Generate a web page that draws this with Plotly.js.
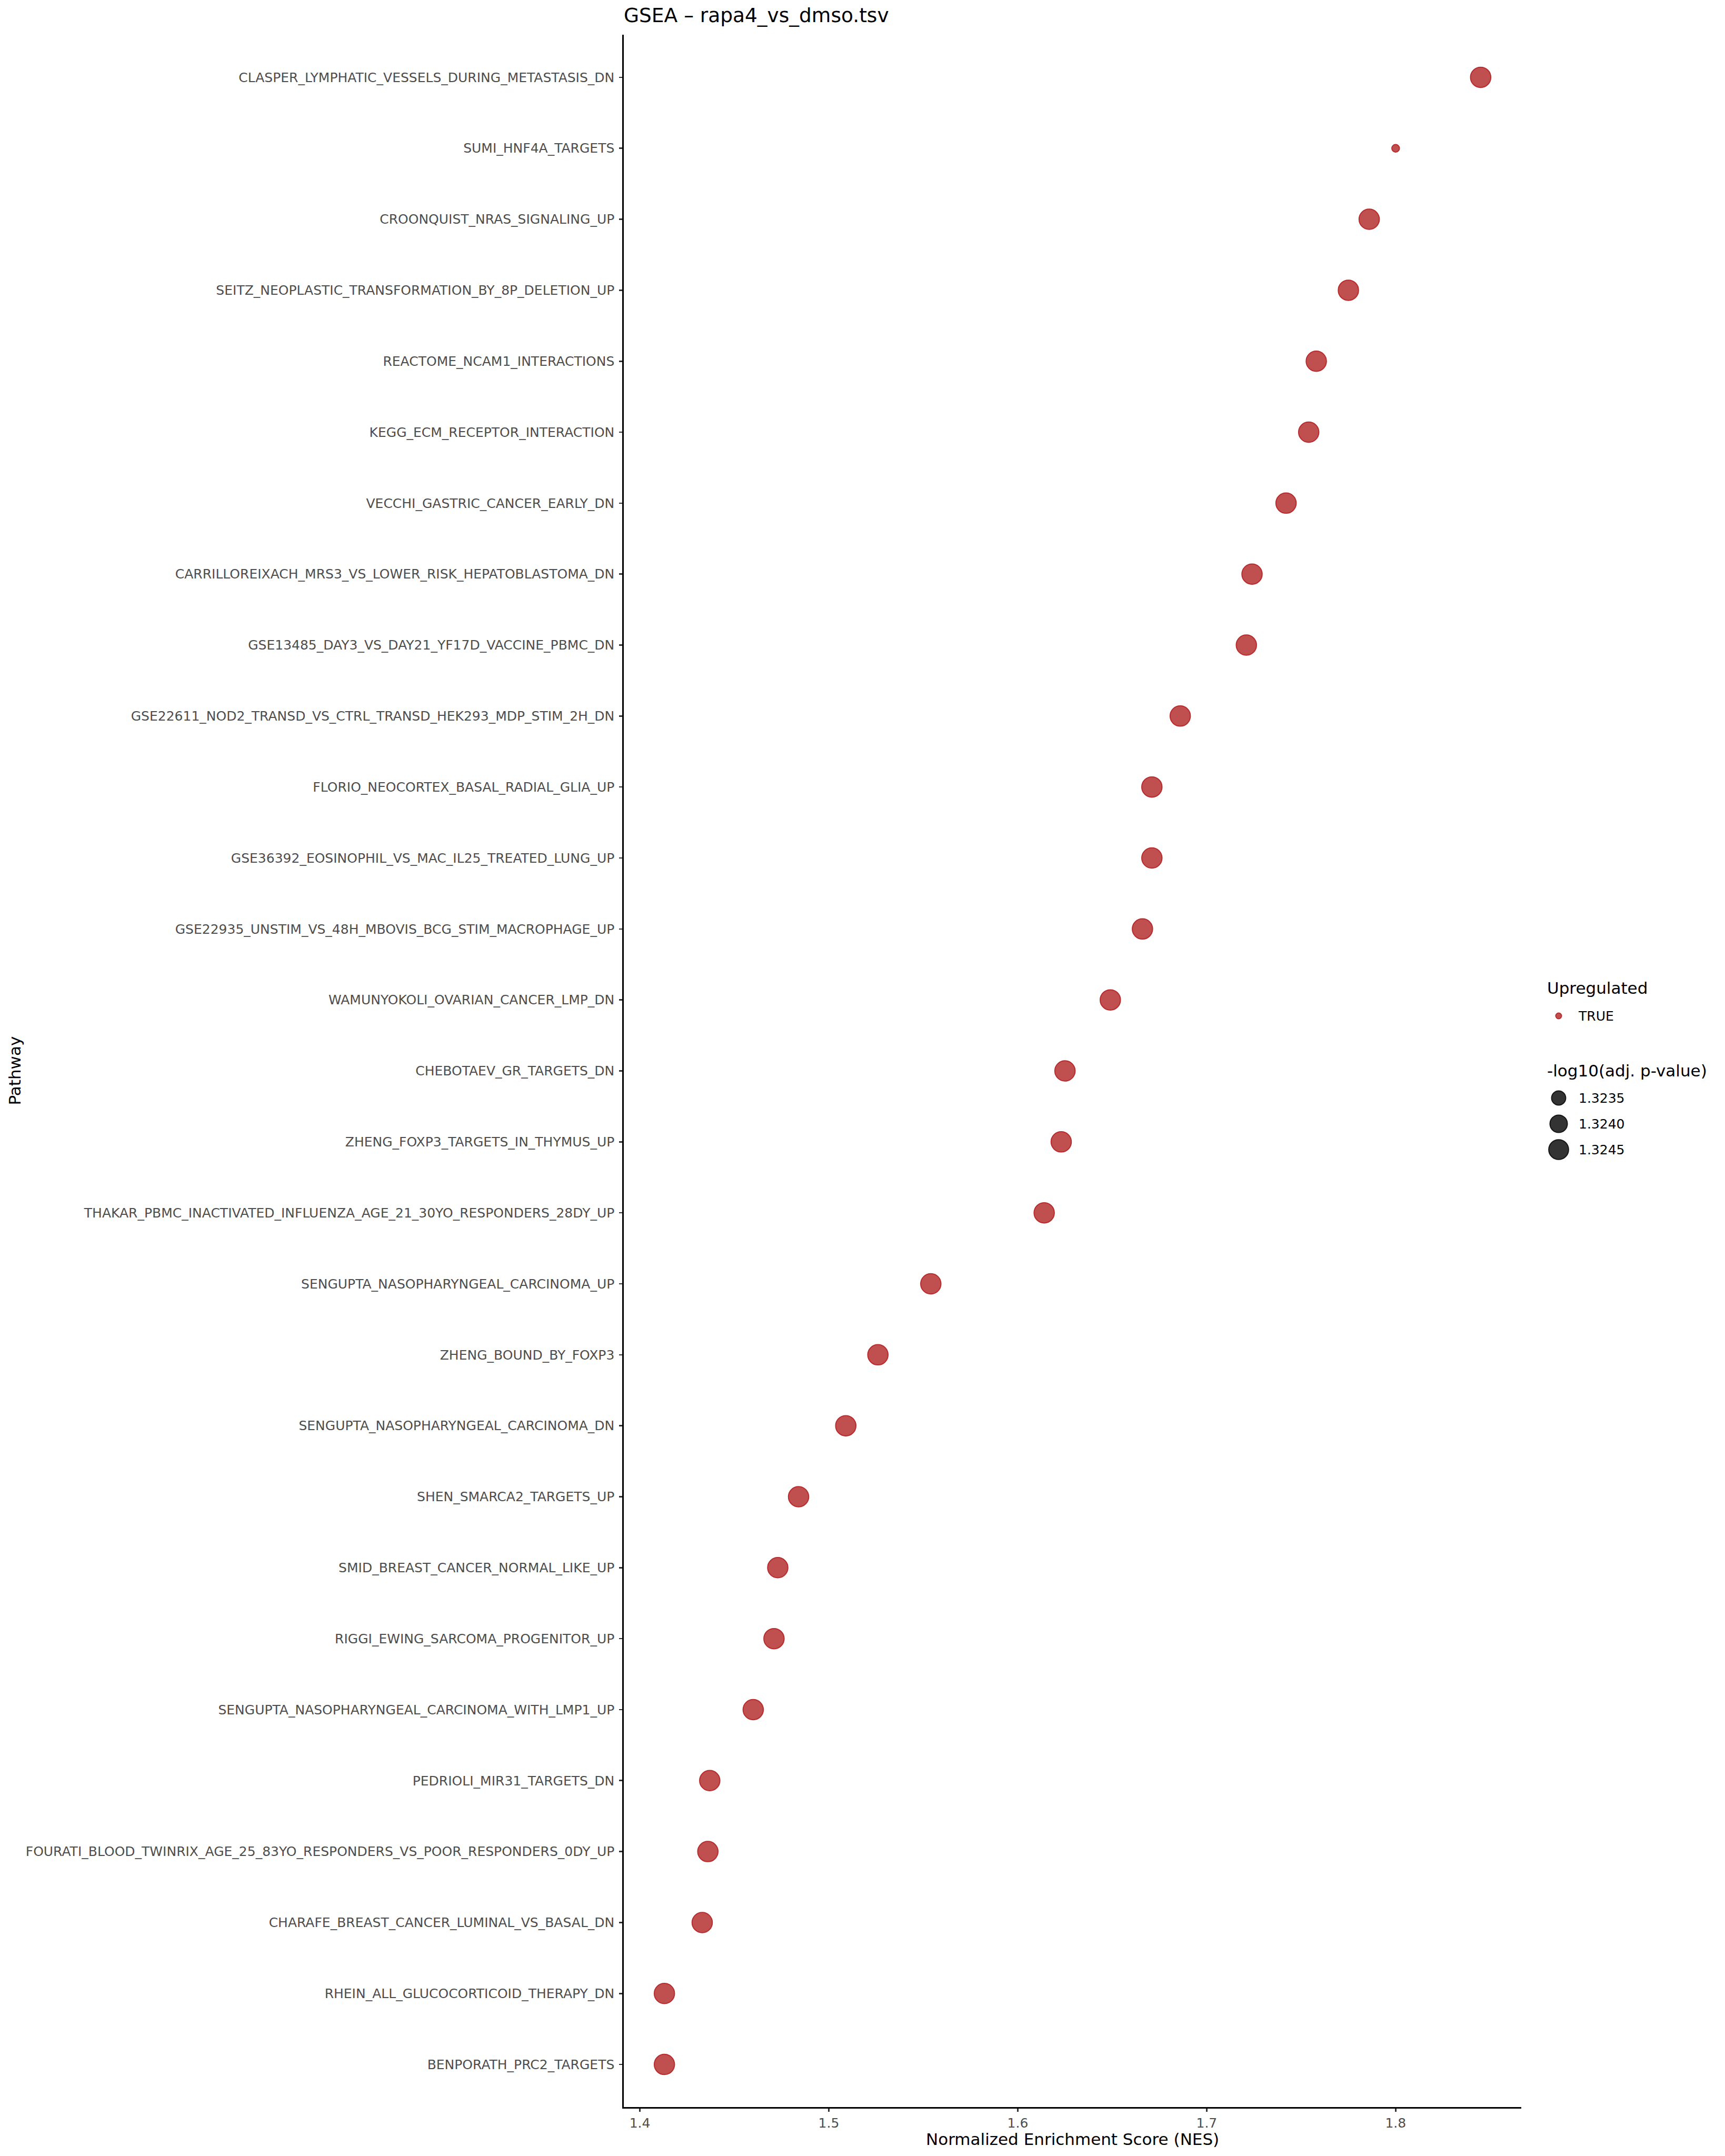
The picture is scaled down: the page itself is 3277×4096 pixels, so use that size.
<!DOCTYPE html>
<html>
<head>
<meta charset="utf-8">
<script src="https://cdn.plot.ly/plotly-3.0.1.min.js"></script>
<style>html,body{margin:0;padding:0;background:#fff;}#chart{width:3277px;height:4096px;}</style>
</head>
<body>
<div id="chart"></div>
<script>
// ---- data (top to bottom as displayed) ----
const pathways = [
  "CLASPER_LYMPHATIC_VESSELS_DURING_METASTASIS_DN",
  "SUMI_HNF4A_TARGETS",
  "CROONQUIST_NRAS_SIGNALING_UP",
  "SEITZ_NEOPLASTIC_TRANSFORMATION_BY_8P_DELETION_UP",
  "REACTOME_NCAM1_INTERACTIONS",
  "KEGG_ECM_RECEPTOR_INTERACTION",
  "VECCHI_GASTRIC_CANCER_EARLY_DN",
  "CARRILLOREIXACH_MRS3_VS_LOWER_RISK_HEPATOBLASTOMA_DN",
  "GSE13485_DAY3_VS_DAY21_YF17D_VACCINE_PBMC_DN",
  "GSE22611_NOD2_TRANSD_VS_CTRL_TRANSD_HEK293_MDP_STIM_2H_DN",
  "FLORIO_NEOCORTEX_BASAL_RADIAL_GLIA_UP",
  "GSE36392_EOSINOPHIL_VS_MAC_IL25_TREATED_LUNG_UP",
  "GSE22935_UNSTIM_VS_48H_MBOVIS_BCG_STIM_MACROPHAGE_UP",
  "WAMUNYOKOLI_OVARIAN_CANCER_LMP_DN",
  "CHEBOTAEV_GR_TARGETS_DN",
  "ZHENG_FOXP3_TARGETS_IN_THYMUS_UP",
  "THAKAR_PBMC_INACTIVATED_INFLUENZA_AGE_21_30YO_RESPONDERS_28DY_UP",
  "SENGUPTA_NASOPHARYNGEAL_CARCINOMA_UP",
  "ZHENG_BOUND_BY_FOXP3",
  "SENGUPTA_NASOPHARYNGEAL_CARCINOMA_DN",
  "SHEN_SMARCA2_TARGETS_UP",
  "SMID_BREAST_CANCER_NORMAL_LIKE_UP",
  "RIGGI_EWING_SARCOMA_PROGENITOR_UP",
  "SENGUPTA_NASOPHARYNGEAL_CARCINOMA_WITH_LMP1_UP",
  "PEDRIOLI_MIR31_TARGETS_DN",
  "FOURATI_BLOOD_TWINRIX_AGE_25_83YO_RESPONDERS_VS_POOR_RESPONDERS_0DY_UP",
  "CHARAFE_BREAST_CANCER_LUMINAL_VS_BASAL_DN",
  "RHEIN_ALL_GLUCOCORTICOID_THERAPY_DN",
  "BENPORATH_PRC2_TARGETS"
];
const nes = [
  1.845, 1.800, 1.786, 1.775, 1.758, 1.754, 1.742, 1.724, 1.721, 1.686,
  1.671, 1.671, 1.666, 1.649, 1.625, 1.623, 1.614, 1.554, 1.526, 1.509,
  1.484, 1.473, 1.471, 1.460, 1.437, 1.436, 1.433, 1.413, 1.413
];
const negLog10Padj = [
  1.3246, 1.3231, 1.3246, 1.3246, 1.3246, 1.3246, 1.3246, 1.3246, 1.3246, 1.3246,
  1.3246, 1.3246, 1.3246, 1.3246, 1.3246, 1.3246, 1.3246, 1.3246, 1.3246, 1.3246,
  1.3246, 1.3246, 1.3246, 1.3246, 1.3246, 1.3246, 1.3246, 1.3246, 1.3246
];
const upregulated = ["TRUE"];
const sizeLegendValues = [1.3235, 1.3240, 1.3245];
const sizeLegendLabels = ["1.3235", "1.3240", "1.3245"];
const xTickVals = [1.4, 1.5, 1.6, 1.7, 1.8];
const xTickText = ["1.4", "1.5", "1.6", "1.7", "1.8"];

// ---- size scale (area-like, as in ggplot scale_size) ----
const vMin = Math.min(...negLog10Padj), vMax = Math.max(...negLog10Padj);
const LINE_W = 2;
function sizeOf(v) {
  let t = (v - vMin) / (vMax - vMin);
  t = Math.max(0, Math.min(1, t));
  return 16.4 + 24.1 * Math.sqrt(t) - LINE_W;
}

const FONT = "DejaVu Sans";
const W = 3277, H = 4096;
const L = 1185, R = 20, T = 66, B = 93;
const PW = W - L - R;
const PH = H - T - B;
const px2x = p => (p - L) / PW;
const py2y = p => (H - B - p) / PH;

const redFill = "rgb(192,80,80)", redLine = "rgb(184,44,46)";
const blkFill = "rgb(51,51,51)", blkLine = "rgb(22,22,22)";

const traces = [
  {
    type: "scatter", mode: "markers",
    x: nes, y: pathways, xaxis: "x", yaxis: "y",
    marker: { size: negLog10Padj.map(sizeOf), color: redFill, opacity: 1, line: { color: redLine, width: LINE_W } },
    showlegend: false, hoverinfo: "x+y"
  },
  {
    type: "scatter", mode: "markers",
    x: upregulated.map(() => 0.5), y: upregulated, xaxis: "x3", yaxis: "y3",
    marker: { size: 11, color: redFill, opacity: 1, line: { color: redLine, width: LINE_W } },
    showlegend: false, hoverinfo: "skip"
  },
  {
    type: "scatter", mode: "markers",
    x: sizeLegendValues.map(() => 0.5), y: sizeLegendLabels, xaxis: "x2", yaxis: "y2",
    marker: { size: sizeLegendValues.map(sizeOf), color: blkFill, opacity: 1, line: { color: blkLine, width: LINE_W } },
    showlegend: false, hoverinfo: "skip"
  }
];

const legCx = 2961;
const legX0 = px2x(legCx - 25), legX1 = px2x(legCx + 25);
const rowGap = 49;

const layout = {
  width: W, height: H,
  margin: { l: L, r: R, t: T, b: B, pad: 0 },
  paper_bgcolor: "#ffffff", plot_bgcolor: "#ffffff",
  font: { family: FONT, color: "#000000" },
  showlegend: false,
  title: {
    text: "GSEA \u2013 rapa4_vs_dmso.tsv",
    font: { family: FONT, size: 37.5, color: "#000000" },
    x: 0, xref: "paper", xanchor: "left",
    y: 1 - 29 / H, yref: "container", yanchor: "middle"
  },
  xaxis: {
    domain: [0, px2x(2890)], anchor: "y",
    range: [1.3915, 1.8665], autorange: false,
    tickmode: "array", tickvals: xTickVals, ticktext: xTickText,
    ticks: "outside", ticklen: 6, tickwidth: 2.6, tickcolor: "#333333",
    showline: true, linecolor: "#000000", linewidth: 2.7,
    showgrid: false, zeroline: false,
    tickfont: { family: FONT, size: 25, color: "#4D4D4D" },
    ticklabelstandoff: 0
  },
  yaxis: {
    domain: [0, 1], anchor: "x",
    type: "category", categoryorder: "array", categoryarray: pathways,
    range: [pathways.length - 1 + 0.6, -0.6], autorange: false,
    ticks: "outside", ticklen: 6, tickwidth: 2.6, tickcolor: "#333333",
    showline: true, linecolor: "#000000", linewidth: 2.7,
    showgrid: false, zeroline: false,
    tickfont: { family: FONT, size: 25, color: "#4D4D4D" },
    ticklabelstandoff: 4
  },
  xaxis2: { domain: [legX0, legX1], anchor: "y2", range: [0, 1], visible: false, fixedrange: true },
  yaxis2: {
    domain: [py2y(2086 + 2 * rowGap + rowGap / 2), py2y(2086 - rowGap / 2)], anchor: "x2", side: "right",
    type: "category", categoryorder: "array", categoryarray: sizeLegendLabels,
    range: [2.5, -0.5], autorange: false,
    showline: false, showgrid: false, zeroline: false, ticks: "",
    tickfont: { family: FONT, size: 25, color: "#000000" },
    ticklabelstandoff: 12
  },
  xaxis3: { domain: [legX0, legX1], anchor: "y3", range: [0, 1], visible: false, fixedrange: true },
  yaxis3: {
    domain: [py2y(1950), py2y(1910)], anchor: "x3", side: "right",
    type: "category", categoryorder: "array", categoryarray: upregulated,
    range: [0.5, -0.5], autorange: false,
    showline: false, showgrid: false, zeroline: false, ticks: "",
    tickfont: { family: FONT, size: 25, color: "#000000" },
    ticklabelstandoff: 12
  },
  annotations: [
    {
      text: "Normalized Enrichment Score (NES)", showarrow: false,
      xref: "x domain", x: 0.5, xanchor: "center",
      yref: "paper", y: py2y(4064), yanchor: "middle",
      font: { family: FONT, size: 31, color: "#000000" }
    },
    {
      text: "Pathway", showarrow: false, textangle: -90,
      xref: "paper", x: px2x(27), xanchor: "center",
      yref: "paper", y: 0.5, yanchor: "middle",
      font: { family: FONT, size: 31, color: "#000000" }
    },
    {
      text: "Upregulated", showarrow: false,
      xref: "paper", x: px2x(2937), xanchor: "left",
      yref: "paper", y: py2y(1877), yanchor: "middle",
      font: { family: FONT, size: 31, color: "#000000" }
    },
    {
      text: "-log10(adj. p-value)", showarrow: false,
      xref: "paper", x: px2x(2937), xanchor: "left",
      yref: "paper", y: py2y(2034), yanchor: "middle",
      font: { family: FONT, size: 31, color: "#000000" }
    }
  ]
};

Plotly.newPlot("chart", traces, layout, { staticPlot: true, displayModeBar: false });
</script>
</body>
</html>
